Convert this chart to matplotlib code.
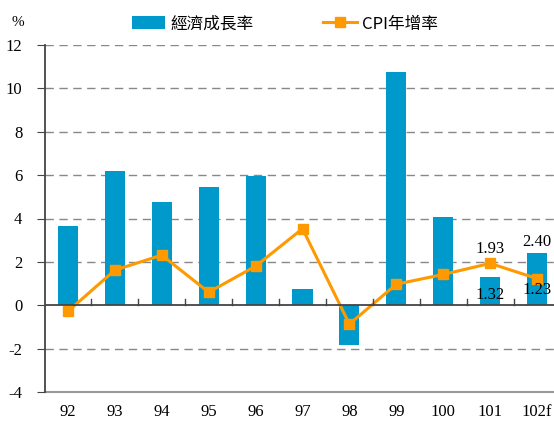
import matplotlib
matplotlib.use("Agg")
import matplotlib.pyplot as plt
import numpy as np
from matplotlib.lines import Line2D
from matplotlib.patches import Patch

categories = ["92", "93", "94", "95", "96", "97", "98", "99", "100", "101", "102f"]
gdp = [3.67, 6.19, 4.75, 5.44, 5.98, 0.73, -1.81, 10.76, 4.07, 1.32, 2.40]
cpi = [-0.28, 1.62, 2.31, 0.60, 1.80, 3.53, -0.87, 0.97, 1.42, 1.93, 1.23]
yticks = [-4, -2, 0, 2, 4, 6, 8, 10, 12]

bar_color = "#0099CC"
line_color = "#FF9900"
serif = ["Liberation Serif", "DejaVu Serif"]
cjk = ["Noto Sans CJK TC", "DejaVu Sans"]

plt.rcParams["font.family"] = serif

fig = plt.figure(figsize=(5.54, 4.21), dpi=100)
ax = fig.add_axes([44.5/554, 1-392/421, 516/554, 347/421])

x = np.arange(len(categories))
ax.bar(x, gdp, width=0.43, color=bar_color, zorder=3)
ax.plot(x, cpi, color=line_color, lw=2.2, marker="s", ms=6.5, zorder=4)

ax.set_xlim(-0.5, len(categories)-0.5)
ax.set_ylim(-4, 12)
for y in yticks:
    if y in (0, -4):
        continue
    ax.axhline(y, color="#888888", lw=1, ls=(0, (6, 4)), zorder=1)
ax.axhline(-4, color="#999999", lw=1.5, zorder=1, clip_on=False)
ax.axhline(0, color="#444444", lw=1.3, zorder=5)

for s in ["top", "right", "bottom"]:
    ax.spines[s].set_visible(False)
ax.spines["left"].set_color("#444444")
ax.spines["left"].set_linewidth(1.3)

ax.set_yticks(yticks)
ax.set_yticklabels([str(v) for v in yticks], fontsize=12)
ax.tick_params(axis="y", direction="out", length=6, color="#444444", pad=10)

# category labels
ax.set_xticks([])
for i, c in enumerate(categories):
    ax.text(i, -4.55, c, ha="center", va="top", fontsize=12)
# tick marks at category boundaries on zero line
for b in np.arange(0.5, len(categories)-0.5, 1):
    ax.plot([b, b], [0, 0.27], color="#444444", lw=1, zorder=5)

# data labels
ax.text(9, cpi[9] + 0.3, f"{cpi[9]:.2f}", ha="center", va="bottom", fontsize=12, zorder=6)
ax.text(9, 0.12, f"{gdp[9]:.2f}", ha="center", va="bottom", fontsize=12, zorder=6)
ax.text(10, gdp[10] + 0.15, f"{gdp[10]:.2f}", ha="center", va="bottom", fontsize=12, zorder=6)
ax.text(10, cpi[10] - 0.15, f"{cpi[10]:.2f}", ha="center", va="top", fontsize=12, zorder=6)

fig.text(12/554, 1-22/421, "%", fontsize=11, va="center", ha="left")

handles = [Patch(facecolor=bar_color, edgecolor="none"),
           Line2D([0], [0], color=line_color, lw=2.2, marker="s", ms=6.5)]
leg = fig.legend(handles, ["經濟成長率", "CPI年增率"], loc="center", bbox_to_anchor=(0.514, 1-24/421),
                 ncol=2, frameon=False, prop={"family": cjk, "size": 12}, columnspacing=4.2,
                 handlelength=2.0, handleheight=0.8, handletextpad=0.3)

fig.savefig("out.png", dpi=100)
